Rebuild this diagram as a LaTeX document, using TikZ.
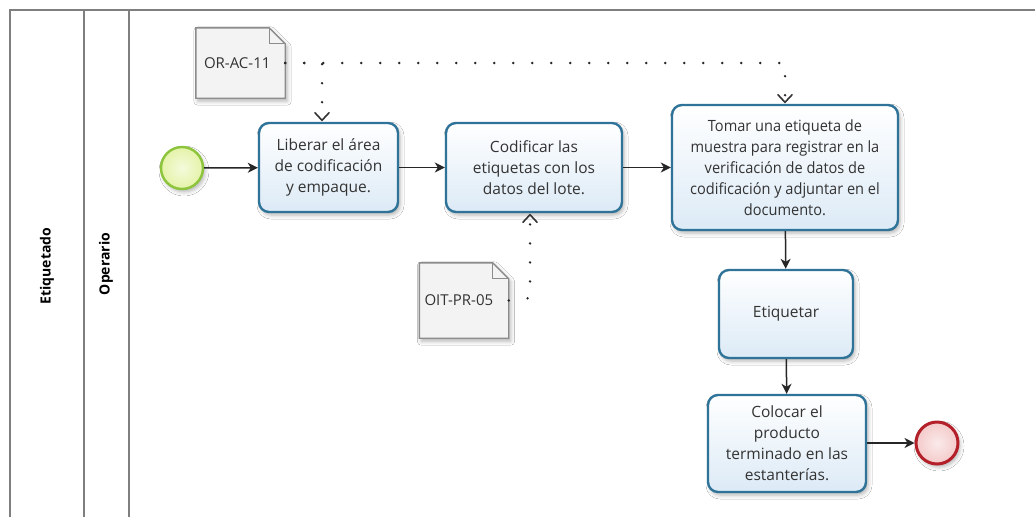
\documentclass[tikz,border=0pt]{standalone}
\usepackage{fontspec}
\setmainfont{Open Sans}
\usetikzlibrary{arrows.meta,shadows.blur,calc}

\definecolor{taskline}{HTML}{2F7399}
\definecolor{taskfill}{HTML}{DCEAF6}
\definecolor{txt}{HTML}{333333}
\definecolor{poolline}{HTML}{7F7F7F}
\definecolor{startline}{HTML}{8CC43C}
\definecolor{startfill}{HTML}{E4F3A8}
\definecolor{endline}{HTML}{B3202A}
\definecolor{endfill}{HTML}{F4CACA}
\definecolor{docline}{HTML}{8C8C8C}
\definecolor{docfill}{HTML}{F3F3F3}

\tikzset{
  softshadow/.style={blur shadow={shadow xshift=2pt,shadow yshift=-3pt,
      shadow blur radius=4pt,shadow opacity=30}},
  task/.style={draw=taskline,line width=2.4pt,rounded corners=10pt,
      top color=white,bottom color=taskfill,softshadow,
      align=center,text=txt,font=\fontsize{15.5}{21}\selectfont,inner sep=2pt},
  narrowtext/.style={font=\fontsize{15.5}{21}\selectfont\addfontfeatures{FakeStretch=0.94}},
  startev/.style={circle,draw=startline,line width=2.4pt,minimum size=42pt,
      inner color=startfill!40,outer color=startfill,softshadow},
  endev/.style={circle,draw=endline,line width=3pt,minimum size=42pt,
      inner color=endfill!40,outer color=endfill,softshadow},
  docbox/.style={minimum width=89pt,inner sep=0pt},
  doctext/.style={font=\fontsize{15}{18}\selectfont,text=txt,anchor=west,inner sep=0pt},
  docshape/.style={draw=docline,line width=1.4pt,fill=docfill,softshadow},
  pool/.style={draw=poolline,line width=2pt},
  lanelabel/.style={rotate=90,font=\bfseries\fontsize{14}{16}\selectfont,text=black},
  flow/.style={draw=black!85,line width=1.5pt,-{Stealth[length=10pt,width=10pt,inset=3pt]}},
  assocdots/.style={draw=black!85,line width=2.6pt,line cap=round,
      dash pattern=on 0pt off 19pt,shorten >=5pt},
  assochead/.style={draw=black!80,line width=1.6pt,line cap=round,line join=miter},
}

\begin{document}
\begin{tikzpicture}[x=1pt,y=-1pt]
\useasboundingbox (0,0) rectangle (1035,517);
\fill[white] (0,0) rectangle (1035,517);

% pool and lane borders
\draw[pool] (10,517) -- (10,10) -- (1035,10);
\draw[pool] (84,10) -- (84,517);
\draw[pool] (129,10) -- (129,517);
\node[lanelabel] (pooltitle) at (47,266) {Etiquetado};
\node[lanelabel] (lanetitle) at (106,264) {Operario};

% events
\node[startev] (start) at (182,168) {};
\node[endev] (finish) at (937,443) {};

% activities
\node[task,minimum width=139pt,minimum height=89pt] (t1) at (328.5,167.5)
  {Liberar el área\\de codificación\\y empaque.};
\node[task,minimum width=176pt,minimum height=89pt] (t2) at (534,167.5)
  {Codificar las\\etiquetas con los\\datos del lote.};
\node[task,narrowtext,minimum width=226pt,minimum height=125pt] (t3) at (785,167.5)
  {Tomar una etiqueta de\\muestra para registrar en la\\verificación de datos de\\codificación y adjuntar en el\\documento.};
\node[task,minimum width=134pt,minimum height=88pt] (t4) at (786,314)
  {Etiquetar};
\node[task,minimum width=158pt,minimum height=97pt] (t5) at (787,443.5)
  {Colocar el\\producto\\terminado en las\\estanterías.};

% data objects (page with folded corner)
\node[docbox,minimum height=70pt] (d1) at (240.5,63) {};
\draw[docshape] (d1.south west) -- (d1.north west) -- ($(d1.north east)+(-16,0)$)
  -- ($(d1.north east)+(0,16)$) -- (d1.south east) -- cycle;
\draw[draw=docline,line width=1.2pt] ($(d1.north east)+(-16,0)$) -- ($(d1.north east)+(-16,16)$) -- ($(d1.north east)+(0,16)$);
\node[doctext] (d1text) at ($(d1.west)+(8,0)$) {OR-AC-11};

\node[docbox,minimum height=75pt] (d2) at (464,300.5) {};
\draw[docshape] (d2.south west) -- (d2.north west) -- ($(d2.north east)+(-16,0)$)
  -- ($(d2.north east)+(0,16)$) -- (d2.south east) -- cycle;
\draw[draw=docline,line width=1.2pt] ($(d2.north east)+(-16,0)$) -- ($(d2.north east)+(-16,16)$) -- ($(d2.north east)+(0,16)$);
\node[doctext] (d2text) at ($(d2.west)+(5,0)$) {OIT-PR-05};

% sequence flows
\draw[flow] (start) -- (t1);
\draw[flow] (t1) -- (t2);
\draw[flow] (t2.east) -- (t3.west |- t2.east);
\draw[flow] (t3) -- (t4);
\draw[flow] (t4) -- (t5);
\draw[flow] (t5.east |- finish) -- (finish);

% associations: dotted routes ending in open V heads
\coordinate (a1) at (322,63);
\coordinate (a3) at (785,63);
\coordinate (a2) at (530,298);
\coordinate (h1) at (a1 |- t1.north);
\coordinate (h3) at (t3.north);
\coordinate (h2) at (a2 |- t2.south);
\draw[assocdots] (d1.east) -- (a1) -- (h1);
\draw[assocdots] (d1.east) -- (a3) -- (h3);
\draw[assocdots] (d2.east) -- (a2) -- (h2);
\draw[assochead] ($(h1)+(-7,-9)$) -- ($(h1)+(0,-1.5)$) -- ($(h1)+(7,-9)$);
\draw[assochead] ($(h3)+(-7,-9)$) -- ($(h3)+(0,-1.5)$) -- ($(h3)+(7,-9)$);
\draw[assochead] ($(h2)+(-7,9)$) -- ($(h2)+(0,1.5)$) -- ($(h2)+(7,9)$);
\end{tikzpicture}
\end{document}
